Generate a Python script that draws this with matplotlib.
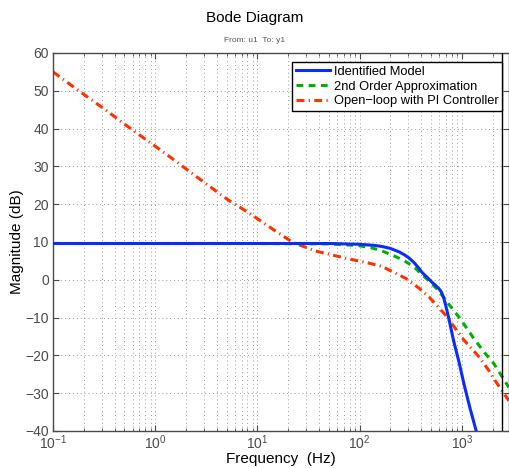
import matplotlib
matplotlib.use("Agg")
import matplotlib.pyplot as plt
from matplotlib.ticker import LogLocator, FixedLocator

plt.rcParams['font.family'] = ['Liberation Sans', 'DejaVu Sans']
plt.rcParams['mathtext.fontset'] = 'custom'
plt.rcParams['mathtext.rm'] = 'Liberation Sans'
plt.rcParams['mathtext.it'] = 'Liberation Sans:italic'

# ---- data ----
f_ident = [0.1, 1, 10, 50, 100, 140, 167, 200, 243, 275, 304, 340, 380, 407, 460, 509,
           560, 600, 630, 667, 700, 747, 830, 935, 1050, 1200, 1360, 1450]
m_ident = [9.6, 9.6, 9.6, 9.6, 9.4, 9.1, 8.8, 8.3, 7.4, 6.6, 5.8, 4.6, 3.1, 2.0, 0.6, -0.6,
           -1.6, -2.4, -3.2, -4.8, -7.0, -10.2, -16.0, -21.5, -27.5, -33.8, -39.2, -42.0]

f_2nd = [0.1, 1, 10, 50, 80, 100, 133, 167, 218, 272, 341, 407, 497, 600, 692, 800,
         935, 1100, 1310, 1500, 1700, 2050, 2400, 2670, 2900]
m_2nd = [9.6, 9.6, 9.6, 9.5, 9.2, 9.0, 8.4, 7.6, 6.3, 5.1, 3.4, 1.4, -0.7, -3.0, -5.3, -7.5,
         -9.8, -12.5, -15.5, -17.6, -19.5, -22.1, -25.0, -27.0, -28.5]

f_pi = [0.1, 0.183, 0.31, 0.5, 0.82, 1.38, 2.5, 5.0, 8.35, 13.1, 22.1, 37.2, 73.5, 124,
        167, 194, 282, 381, 477, 692, 1046, 1465, 1830, 2210, 2780, 2900]
m_pi = [55.0, 49.8, 45.4, 41.2, 37.0, 32.6, 27.4, 21.4, 17.6, 14.0, 9.9, 7.6, 5.7, 4.4,
        3.5, 2.6, 0.4, -2.2, -4.5, -9.3, -15.9, -20.3, -23.9, -27.4, -31.3, -32.0]

series_labels = ['Identified Model', '2nd Order Approximation', 'Open\u2212loop with PI Controller']
nyquist_hz = 2500
x_limits = (0.1, 2900)
y_limits = (-40, 60)
y_ticks = [-40, -30, -20, -10, 0, 10, 20, 30, 40, 50, 60]

# ---- figure ----
fig = plt.figure(figsize=(5.10, 4.68), dpi=100)
ax = fig.add_axes([53/510, 1-431/468, 456/510, 378/468])

ax.semilogx(f_ident, m_ident, color='#0a2cff', lw=2.2, label=series_labels[0], zorder=4)
ax.semilogx(f_2nd, m_2nd, color='#00b000', lw=2.2, dashes=(2.2, 1.8), label=series_labels[1], zorder=3)
ax.semilogx(f_pi, m_pi, color='#ff3300', lw=2.2, dashes=(2.6, 1.4, 0.4, 1.4), label=series_labels[2], zorder=2)

ax.axvline(nyquist_hz, color='black', lw=1.0, zorder=5)

ax.set_xlim(*x_limits)
ax.set_ylim(*y_limits)
ax.yaxis.set_major_locator(FixedLocator(y_ticks))
ax.xaxis.set_major_locator(LogLocator(base=10, numticks=10))
ax.xaxis.set_minor_locator(LogLocator(base=10, subs=range(2, 10), numticks=20))

grid_col = '#9a9a9a'
ax.grid(True, which='major', axis='both', color=grid_col, ls=(0, (1, 3)), lw=0.7)
ax.grid(True, which='minor', axis='x', color=grid_col, ls=(0, (1, 3)), lw=0.7)

spine_col = '#4a4a4a'
for s in ax.spines.values():
    s.set_color(spine_col)
    s.set_linewidth(1.0)
ax.tick_params(which='both', direction='in', top=True, right=True, colors=spine_col,
               labelcolor='#4a4a4a', labelsize=10)
ax.tick_params(which='major', length=4)
ax.tick_params(which='minor', length=2)
ax.tick_params(axis='x', which='major', pad=2)
ax.tick_params(axis='y', which='major', pad=3)

ax.set_xlabel('Frequency  (Hz)', fontsize=11, color='black')
ax.xaxis.set_label_coords(0.5, (431 - 459) / 378)
ax.xaxis.label.set_va('center')
ax.set_ylabel('Magnitude (dB)', fontsize=11, color='black')
ax.yaxis.set_label_coords((17 - 53) / 456, 0.5)
ax.yaxis.label.set_va('center')

leg = ax.legend(loc='upper right', bbox_to_anchor=(0.985, 0.976), borderaxespad=0,
                fontsize=9.3, frameon=True, fancybox=False, handlelength=2.6,
                handletextpad=0.3, borderpad=0.3, labelspacing=0.2)
leg.get_frame().set_edgecolor('black')
leg.get_frame().set_linewidth(1.0)
leg.get_frame().set_alpha(1)

fig.text(0.5, 1-18/468, 'Bode Diagram', ha='center', va='center', fontsize=11, color='black')
fig.text(0.5, 1-41/468, 'From: u1  To: y1', ha='center', va='center', fontsize=6, color='#555555')

fig.savefig('out.png', dpi=100)
